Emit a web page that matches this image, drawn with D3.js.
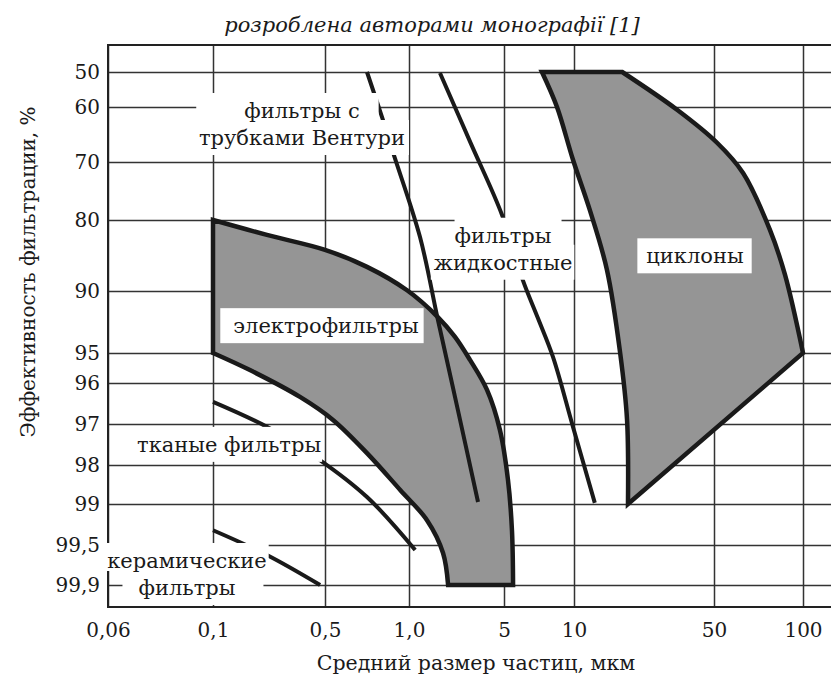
<!DOCTYPE html>
<html>
<head>
<meta charset="utf-8">
<script src="https://cdn.jsdelivr.net/npm/d3@7"></script>
<style>
  body { margin: 0; background: #fff; }
  text { font-family: "DejaVu Serif", "Liberation Serif", serif; fill: #1a1a1a; }
</style>
</head>
<body>
<div id="chart"></div>
<script>
// axis ticks (the axis is hand drawn, not a true log / probability scale)
const xTicks = [0.06, 0.1, 0.5, 1, 5, 10, 50, 100];
const xTickLabels = ["0,06", "0,1", "0,5", "1,0", "5", "10", "50", "100"];
const yTicks = [50, 60, 70, 80, 90, 95, 96, 97, 98, 99, 99.5, 99.9];
const yTickLabels = ["50", "60", "70", "80", "90", "95", "96", "97", "98", "99", "99,5", "99,9"];

// regions and curves: [particle size, efficiency]
const electroOuter = [[0.1, 80], [0.217, 82.1], [0.5, 84.2], [0.707, 86.6], [0.984, 89.9], [1.63, 92.1],
  [2.18, 93.7], [2.81, 95.23], [3.75, 96.17], [4.67, 97.15], [5.2, 98.38], [5.41, 99.32], [5.47, 99.9]];
const electroInner = [[1.94, 99.9], [1.78, 99.58], [1.36, 99.2], [0.93, 98.64], [0.707, 97.71],
  [0.534, 96.9], [0.349, 96.34], [0.17, 95.57], [0.1, 95]];
const cycloneTop = [[7.28, 50], [17.4, 50]];
const cycloneRight = [[17.4, 50], [32.7, 60.5], [51.2, 66.5], [62.7, 71.9], [77.3, 81.4], [86.9, 87.7], [100, 95]];
const cycloneLeft = [[18.6, 99], [18.4, 96.9], [17.0, 95], [14.6, 87.0], [12.0, 78.3], [9.9, 69.6], [8.45, 60], [7.28, 50]];
const venturi = [[0.707, 50], [0.807, 62.4], [0.876, 68.2], [1.205, 82.4], [1.63, 92.3], [2.29, 96.66], [3.22, 98.95]];
const liquid = [[1.69, 50.3], [2.86, 66.7], [4.83, 79.1], [6.03, 88.5], [7.0, 92.2], [8.12, 95.13], [9.9, 97.07], [12.7, 98.97]];
const fabric = [[0.1, 96.46], [0.217, 97.07], [0.446, 97.83], [0.707, 98.82], [1.11, 99.55]];
const ceramic = [[0.1, 99.32], [0.217, 99.6], [0.466, 99.9]];

const labels = [
  { lines: ["фильтры с", "трубками Вентури"], x: 0.359, y: 62.0, padL: [48, 3], padR: [19, 4] },
  { lines: ["фильтры", "жидкостные"], x: 4.92, y: 83.2, padL: [0, 3], padR: [10, 2] },
  { lines: ["электрофильтры"], x: 0.504, y: 93.4, padL: [13], padR: [5] },
  { lines: ["циклоны"], x: 40.2, y: 86.1, padL: [9], padR: [8] },
  { lines: ["тканые фильтры"], x: 0.126, y: 97.68, padL: [8], padR: [1] },
  { lines: ["керамические", "фильтры"], x: 0.0881, y: 99.73, padL: [2, 16], padR: [2, 28] }
];

const title = "розроблена авторами монографії [1]";
const xTitle = "Средний размер частиц, мкм";
const yTitle = "Эффективность фильтрации, %";

const W = 831, H = 680;
const plot = { left: 108, right: 840, top: 45, bottom: 607 };
const xTickPx = [108, 213, 325, 409, 504, 574, 714, 803];
const yTickPx = [72, 107, 162, 220, 291, 353, 383, 424, 465, 504, 545, 585];

const svg = d3.select("#chart").append("svg")
  .attr("width", W).attr("height", H)
  .style("background", "#fff");

const xs = d3.scaleLinear().domain(xTicks.map(Math.log10)).range(xTickPx);
const ys = d3.scaleLinear().domain(yTicks).range(yTickPx);
const x = v => xs(Math.log10(v));

// grid via axes
const gx = svg.append("g").attr("transform", `translate(0,${plot.bottom})`)
  .call(d3.axisBottom(xs).tickValues(xTicks.map(Math.log10))
    .tickSize(-(plot.bottom - plot.top)).tickPadding(16)
    .tickFormat((d, i) => xTickLabels[i]));
const gy = svg.append("g").attr("transform", `translate(${plot.left},0)`)
  .call(d3.axisLeft(ys).tickValues(yTicks)
    .tickSize(-(plot.right - plot.left)).tickPadding(8)
    .tickFormat((d, i) => yTickLabels[i]));
[gx, gy].forEach(g => {
  g.select(".domain").remove();
  g.selectAll(".tick line").attr("stroke", "#333").attr("stroke-width", 1.5);
  g.selectAll(".tick text").attr("font-size", 20).attr("fill", "#1a1a1a")
    .style("font-family", "'DejaVu Serif', serif");
});

// frame
svg.append("path")
  .attr("d", `M${plot.right},${plot.top}H${plot.left}V${plot.bottom}H${plot.right}`)
  .attr("fill", "none").attr("stroke", "#222").attr("stroke-width", 2);

const smooth = d3.line().x(d => x(d[0])).y(d => ys(d[1])).curve(d3.curveCatmullRom.alpha(0.5));
const straight = d3.line().x(d => x(d[0])).y(d => ys(d[1]));
const join = parts => parts.map((p, i) => i ? p.replace(/^M/, "L") : p).join("") + "Z";

const areaStyle = sel => sel.attr("fill", "#959595").attr("stroke", "#1a1a1a")
  .attr("stroke-width", 4.5).attr("stroke-linejoin", "miter");

svg.append("path").attr("d", join([smooth(electroOuter), smooth(electroInner)])).call(areaStyle);
svg.append("path").attr("d", join([straight(cycloneTop), smooth(cycloneRight), smooth(cycloneLeft)])).call(areaStyle);

[venturi, liquid, fabric, ceramic].forEach(c => {
  svg.append("path").attr("d", smooth(c))
    .attr("fill", "none").attr("stroke", "#1a1a1a").attr("stroke-width", 4);
});

// labels with white backing boxes
const lineH = 27;
labels.forEach(l => {
  const g = svg.append("g");
  const last = l.lines.length - 1;
  const texts = l.lines.map((t, i) => g.append("text")
    .attr("x", x(l.x)).attr("y", ys(l.y) + i * lineH)
    .attr("text-anchor", "middle").attr("font-size", 21).text(t));
  texts.forEach((t, i) => {
    const b = t.node().getBBox();
    g.insert("rect", ":first-child")
      .attr("x", b.x - l.padL[i]).attr("y", ys(l.y) + i * lineH - 25)
      .attr("width", b.width + l.padL[i] + l.padR[i])
      .attr("height", i === last ? 35 : lineH + 1)
      .attr("fill", "#fff");
  });
});

svg.append("text").attr("x", 432).attr("y", 32).attr("text-anchor", "middle")
  .attr("font-size", 21).attr("font-style", "italic").text(title);
svg.append("text").attr("x", 476).attr("y", 670).attr("text-anchor", "middle")
  .attr("font-size", 20.5).text(xTitle);
svg.append("text").attr("transform", "translate(35,272) rotate(-90)").attr("text-anchor", "middle")
  .attr("font-size", 20).text(yTitle);
</script>
</body>
</html>
